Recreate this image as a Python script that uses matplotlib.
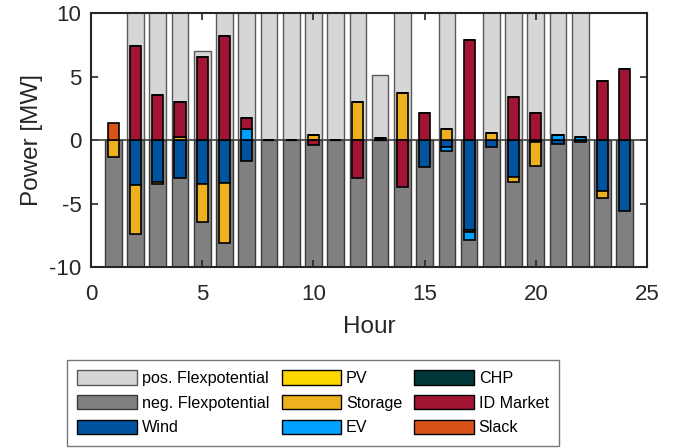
import numpy as np
import matplotlib
matplotlib.use("Agg")
import matplotlib.pyplot as plt
from matplotlib.patches import Patch

plt.rcParams['font.family'] = ['Liberation Sans', 'DejaVu Sans']
plt.rcParams['axes.unicode_minus'] = False

hours = np.arange(1, 25)

pos_flex = [0, 12, 12, 12, 7.0, 12, 12, 12, 12, 12, 12, 12,
            5.12, 12, 0, 12, 0, 12, 12, 12, 12, 12, 0, 0]
neg_flex = [-12] * 24

wind = [0, -3.57, -3.28, -2.97, -3.49, -3.41, -1.63, 0, 0, 0, 0, 0,
        0, 0, -2.15, -0.58, -7.09, -0.55, -2.94, -0.18, -0.34, -0.18, -3.99, -5.56]
pv = [0] * 24
storage = [-1.34, -3.81, -0.21, 0.2, -2.94, -4.72, 0, 0, 0, 0.42, 0, 2.99,
           0, 3.73, 0, 0.89, -0.18, 0.58, -0.39, -1.89, 0, 0, -0.6, 0]
ev = [0, 0, 0, 0, 0, 0, 0.87, 0, 0, 0, 0, 0,
      0, 0, 0, -0.29, -0.58, 0, 0, 0, 0.39, 0.26, 0, 0]
chp = [0, 0, 0, 0, 0, 0, 0, 0, 0, 0, 0, 0,
       0.15, 0, 0, 0, 0, 0, 0, 0, 0, 0, 0, 0]
id_market = [0, 7.43, 3.54, 2.82, 6.51, 8.22, 0.84, 0, 0, -0.42, 0, -2.97,
             0, -3.67, 2.15, 0, 7.9, 0, 3.36, 2.1, 0, 0, 4.62, 5.59]
slack = [1.36, 0, 0, 0, 0, 0, 0, 0, 0, 0, 0, 0,
         0, 0, 0, 0, 0, 0, 0, 0, 0, 0, 0, 0]

series = [("Wind", wind, "#00549F"),
          ("PV", pv, "#FFD700"),
          ("Storage", storage, "#EDB120"),
          ("EV", ev, "#00A0FF"),
          ("CHP", chp, "#003638"),
          ("ID Market", id_market, "#A11434"),
          ("Slack", slack, "#D95319")]

c_pos = "#D6D6D6"
c_neg = "#808080"

fig = plt.figure(figsize=(6.81, 4.48), dpi=100)
ax = fig.add_axes([91/681, 1-267/448, (647-91)/681, (267-13)/448])

wide = 0.75
narrow = 0.5
ax.bar(hours, pos_flex, width=wide, color=c_pos, edgecolor="#5a5a5a", linewidth=1.0, zorder=1)
ax.bar(hours, neg_flex, width=wide, color=c_neg, edgecolor="#3a3a3a", linewidth=1.0, zorder=1)
ax.axhline(0, color="#404040", linewidth=1.2, zorder=2)

pos_base = np.zeros(24)
neg_base = np.zeros(24)
for name, vals, col in series:
    v = np.array(vals, dtype=float)
    bottoms = np.where(v >= 0, pos_base, neg_base)
    ax.bar(hours, v, width=narrow, bottom=bottoms, color=col,
           edgecolor="black", linewidth=1.2, zorder=3)
    pos_base = pos_base + np.where(v > 0, v, 0)
    neg_base = neg_base + np.where(v < 0, v, 0)

ax.set_xlim(0, 25)
ax.set_ylim(-10, 10)
ax.set_xticks([0, 5, 10, 15, 20, 25])
ax.set_yticks([-10, -5, 0, 5, 10])
ax.tick_params(direction="in", top=True, right=True, length=5, width=1.2,
               labelsize=16, colors="#262626")
ax.tick_params(axis="x", pad=12)
ax.tick_params(axis="y", pad=7)
for s in ax.spines.values():
    s.set_linewidth(1.5)
    s.set_color("#262626")
ax.set_xlabel("Hour", fontsize=17.5, color="#262626", labelpad=8)
ax.set_ylabel("Power [MW]", fontsize=17.5, color="#262626", labelpad=4)

handles = [Patch(facecolor=c_pos, edgecolor="#5a5a5a", label="pos. Flexpotential"),
           Patch(facecolor=c_neg, edgecolor="#3a3a3a", label="neg. Flexpotential")]
for name, vals, col in series:
    handles.append(Patch(facecolor=col, edgecolor="black", label=name))

leg = fig.legend(handles=handles, ncol=3, loc="upper left",
                 bbox_to_anchor=(67/681, 1-360/448), fontsize=11.6,
                 handlelength=3.7, handleheight=1.0, handletextpad=0.3,
                 columnspacing=0.75, labelspacing=0.55, borderpad=0.65,
                 borderaxespad=0, fancybox=False, frameon=True)
leg.get_frame().set_edgecolor("#555555")
leg.get_frame().set_linewidth(1.0)

fig.savefig("out.png", dpi=100)
